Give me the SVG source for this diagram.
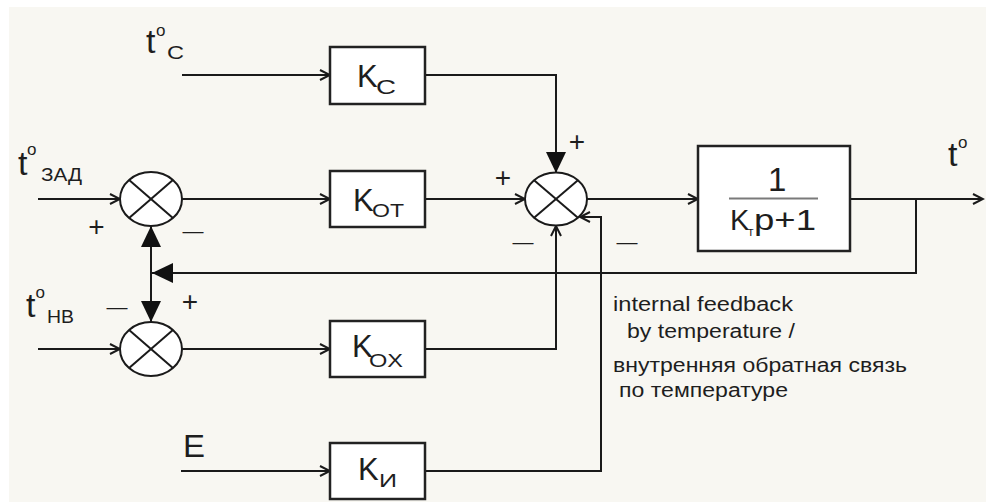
<svg xmlns="http://www.w3.org/2000/svg" width="986" height="504" viewBox="0 0 986 504">
<style>
.ln{fill:none;stroke:#1a1a1a;stroke-width:2}
.box{fill:#fff;stroke:#222;stroke-width:2.5}
.sum{fill:#fff;stroke:#1a1a1a;stroke-width:2}
.x{stroke:#1a1a1a;stroke-width:2}
text{font-family:"Liberation Sans",Arial,sans-serif;fill:#1e1e1e}
.big{font-size:31px}
.tt{font-size:34px}
.sup{font-size:17px}
.sub{font-size:19px}
.sign{font-size:28px;text-anchor:middle}
.note{font-size:20px}
</style>
<defs>
<marker id="open" markerUnits="userSpaceOnUse" markerWidth="14" markerHeight="14" viewBox="-12 -7 14 14" refX="0" refY="0" orient="auto">
<path d="M-10,-5 L0,0 L-10,5" fill="none" stroke="#1a1a1a" stroke-width="2"/>
</marker>
<marker id="fill" markerUnits="userSpaceOnUse" markerWidth="24" markerHeight="24" viewBox="-22 -11 24 22" refX="0" refY="0" orient="auto">
<path d="M-21,-10 L0,0 L-21,10 Z" fill="#111"/>
</marker>
</defs>
<rect x="0" y="0" width="986" height="504" fill="#fff"/>
<rect x="9" y="7" width="977" height="495" fill="#f8f7f2"/>

<g id="connectors">
<path class="ln" d="M182,75 H330" marker-end="url(#open)"/>
<path class="ln" d="M425,75 H556 V173" marker-end="url(#fill)"/>
<path class="ln" d="M38,199 H120" marker-end="url(#open)"/>
<path class="ln" d="M182,199 H330" marker-end="url(#open)"/>
<path class="ln" d="M425,199 H525" marker-end="url(#open)"/>
<path class="ln" d="M587,199 H698" marker-end="url(#open)"/>
<path class="ln" d="M850,199 H983" marker-end="url(#open)"/>
<path class="ln" d="M916,199 V273 H152" marker-end="url(#fill)"/>
<path class="ln" d="M151,273 V226" marker-end="url(#fill)"/>
<path class="ln" d="M151,273 V322" marker-end="url(#fill)"/>
<path class="ln" d="M38,349 H120" marker-end="url(#open)"/>
<path class="ln" d="M182,349 H330" marker-end="url(#open)"/>
<path class="ln" d="M425,349 H556 V226" marker-end="url(#open)"/>
<path class="ln" d="M181,471 H330" marker-end="url(#open)"/>
<path class="ln" d="M425,471 H601 V217 H580" marker-end="url(#open)"/>
</g>

<g id="sum1">
<ellipse class="sum" cx="151" cy="199" rx="31" ry="27"/>
<line class="x" x1="129.1" y1="179.9" x2="172.9" y2="218.1"/>
<line class="x" x1="129.1" y1="218.1" x2="172.9" y2="179.9"/>
<text class="sign" x="96.5" y="236">+</text>
<text class="sign" x="193" y="238" style="font-size:21px">—</text>
</g>

<g id="sum3">
<ellipse class="sum" cx="151" cy="349" rx="31" ry="27"/>
<line class="x" x1="129.1" y1="329.9" x2="172.9" y2="368.1"/>
<line class="x" x1="129.1" y1="368.1" x2="172.9" y2="329.9"/>
<text class="sign" x="117" y="314" style="font-size:21px">—</text>
<text class="sign" x="190" y="311">+</text>
</g>

<g id="sum2">
<ellipse class="sum" cx="556" cy="199" rx="31" ry="26.5"/>
<line class="x" x1="534.1" y1="180.3" x2="577.9" y2="217.7"/>
<line class="x" x1="534.1" y1="217.7" x2="577.9" y2="180.3"/>
<text class="sign" x="503" y="187">+</text>
<text class="sign" x="577" y="151">+</text>
<text class="sign" x="523" y="249" style="font-size:21px">—</text>
<text class="sign" x="627" y="249" style="font-size:21px">—</text>
</g>

<g id="Kc">
<rect class="box" x="330" y="47" width="95" height="57"/>
<text class="big" x="357" y="87">K</text>
<text class="sub" x="376" y="94" textLength="20" lengthAdjust="spacingAndGlyphs" style="font-size:21px">C</text>
</g>

<g id="Kot">
<rect class="box" x="330" y="171" width="95" height="56"/>
<text class="big" x="353" y="211">K</text>
<text class="sub" x="372" y="217" textLength="32" lengthAdjust="spacingAndGlyphs">OT</text>
</g>

<g id="Kox">
<rect class="box" x="330" y="321" width="95" height="56"/>
<text class="big" x="352" y="357">K</text>
<text class="sub" x="369" y="367" textLength="34" lengthAdjust="spacingAndGlyphs">OX</text>
</g>

<g id="Ki">
<rect class="box" x="330" y="443" width="95" height="56"/>
<text class="big" x="358" y="480">K</text>
<text class="sub" x="379" y="487" textLength="18" lengthAdjust="spacingAndGlyphs">И</text>
</g>

<g id="plant">
<rect class="box" x="698" y="146" width="152" height="105"/>
<text x="768" y="191" style="font-size:33px">1</text>
<line x1="729" y1="198.5" x2="818" y2="198.5" stroke="#7a7a7a" stroke-width="2"/>
<text x="730" y="230" style="font-size:29px">K</text>
<text x="748" y="236" style="font-size:12px">т</text>
<text x="754" y="230" style="font-size:29px" textLength="62" lengthAdjust="spacingAndGlyphs">p+1</text>
</g>

<g id="in_tc">
<text class="tt" x="146" y="53">t</text>
<text class="sup" x="156" y="36">o</text>
<text class="sub" x="167" y="59" textLength="17" lengthAdjust="spacingAndGlyphs">C</text>
</g>

<g id="in_tzad">
<text class="tt" x="18" y="175">t</text>
<text class="sup" x="27" y="155">o</text>
<text class="sub" x="41" y="181" textLength="41" lengthAdjust="spacingAndGlyphs">ЗАД</text>
</g>

<g id="in_tnv">
<text class="tt" x="26" y="317">t</text>
<text class="sup" x="35.5" y="298">o</text>
<text class="sub" x="47" y="323" textLength="27" lengthAdjust="spacingAndGlyphs">НВ</text>
</g>

<g id="in_E">
<text class="big" x="183" y="457" textLength="22" lengthAdjust="spacingAndGlyphs">E</text>
</g>

<g id="out_t">
<text class="tt" x="948" y="166">t</text>
<text class="sup" x="958" y="148">o</text>
</g>

<g id="note">
<text class="note" x="613" y="311" textLength="180" lengthAdjust="spacingAndGlyphs">internal feedback</text>
<text class="note" x="627" y="338" textLength="168" lengthAdjust="spacingAndGlyphs">by temperature /</text>
<text class="note" x="613" y="372" textLength="294" lengthAdjust="spacingAndGlyphs">внутренняя обратная связь</text>
<text class="note" x="619" y="397" textLength="169" lengthAdjust="spacingAndGlyphs">по температуре</text>
</g>
</svg>
